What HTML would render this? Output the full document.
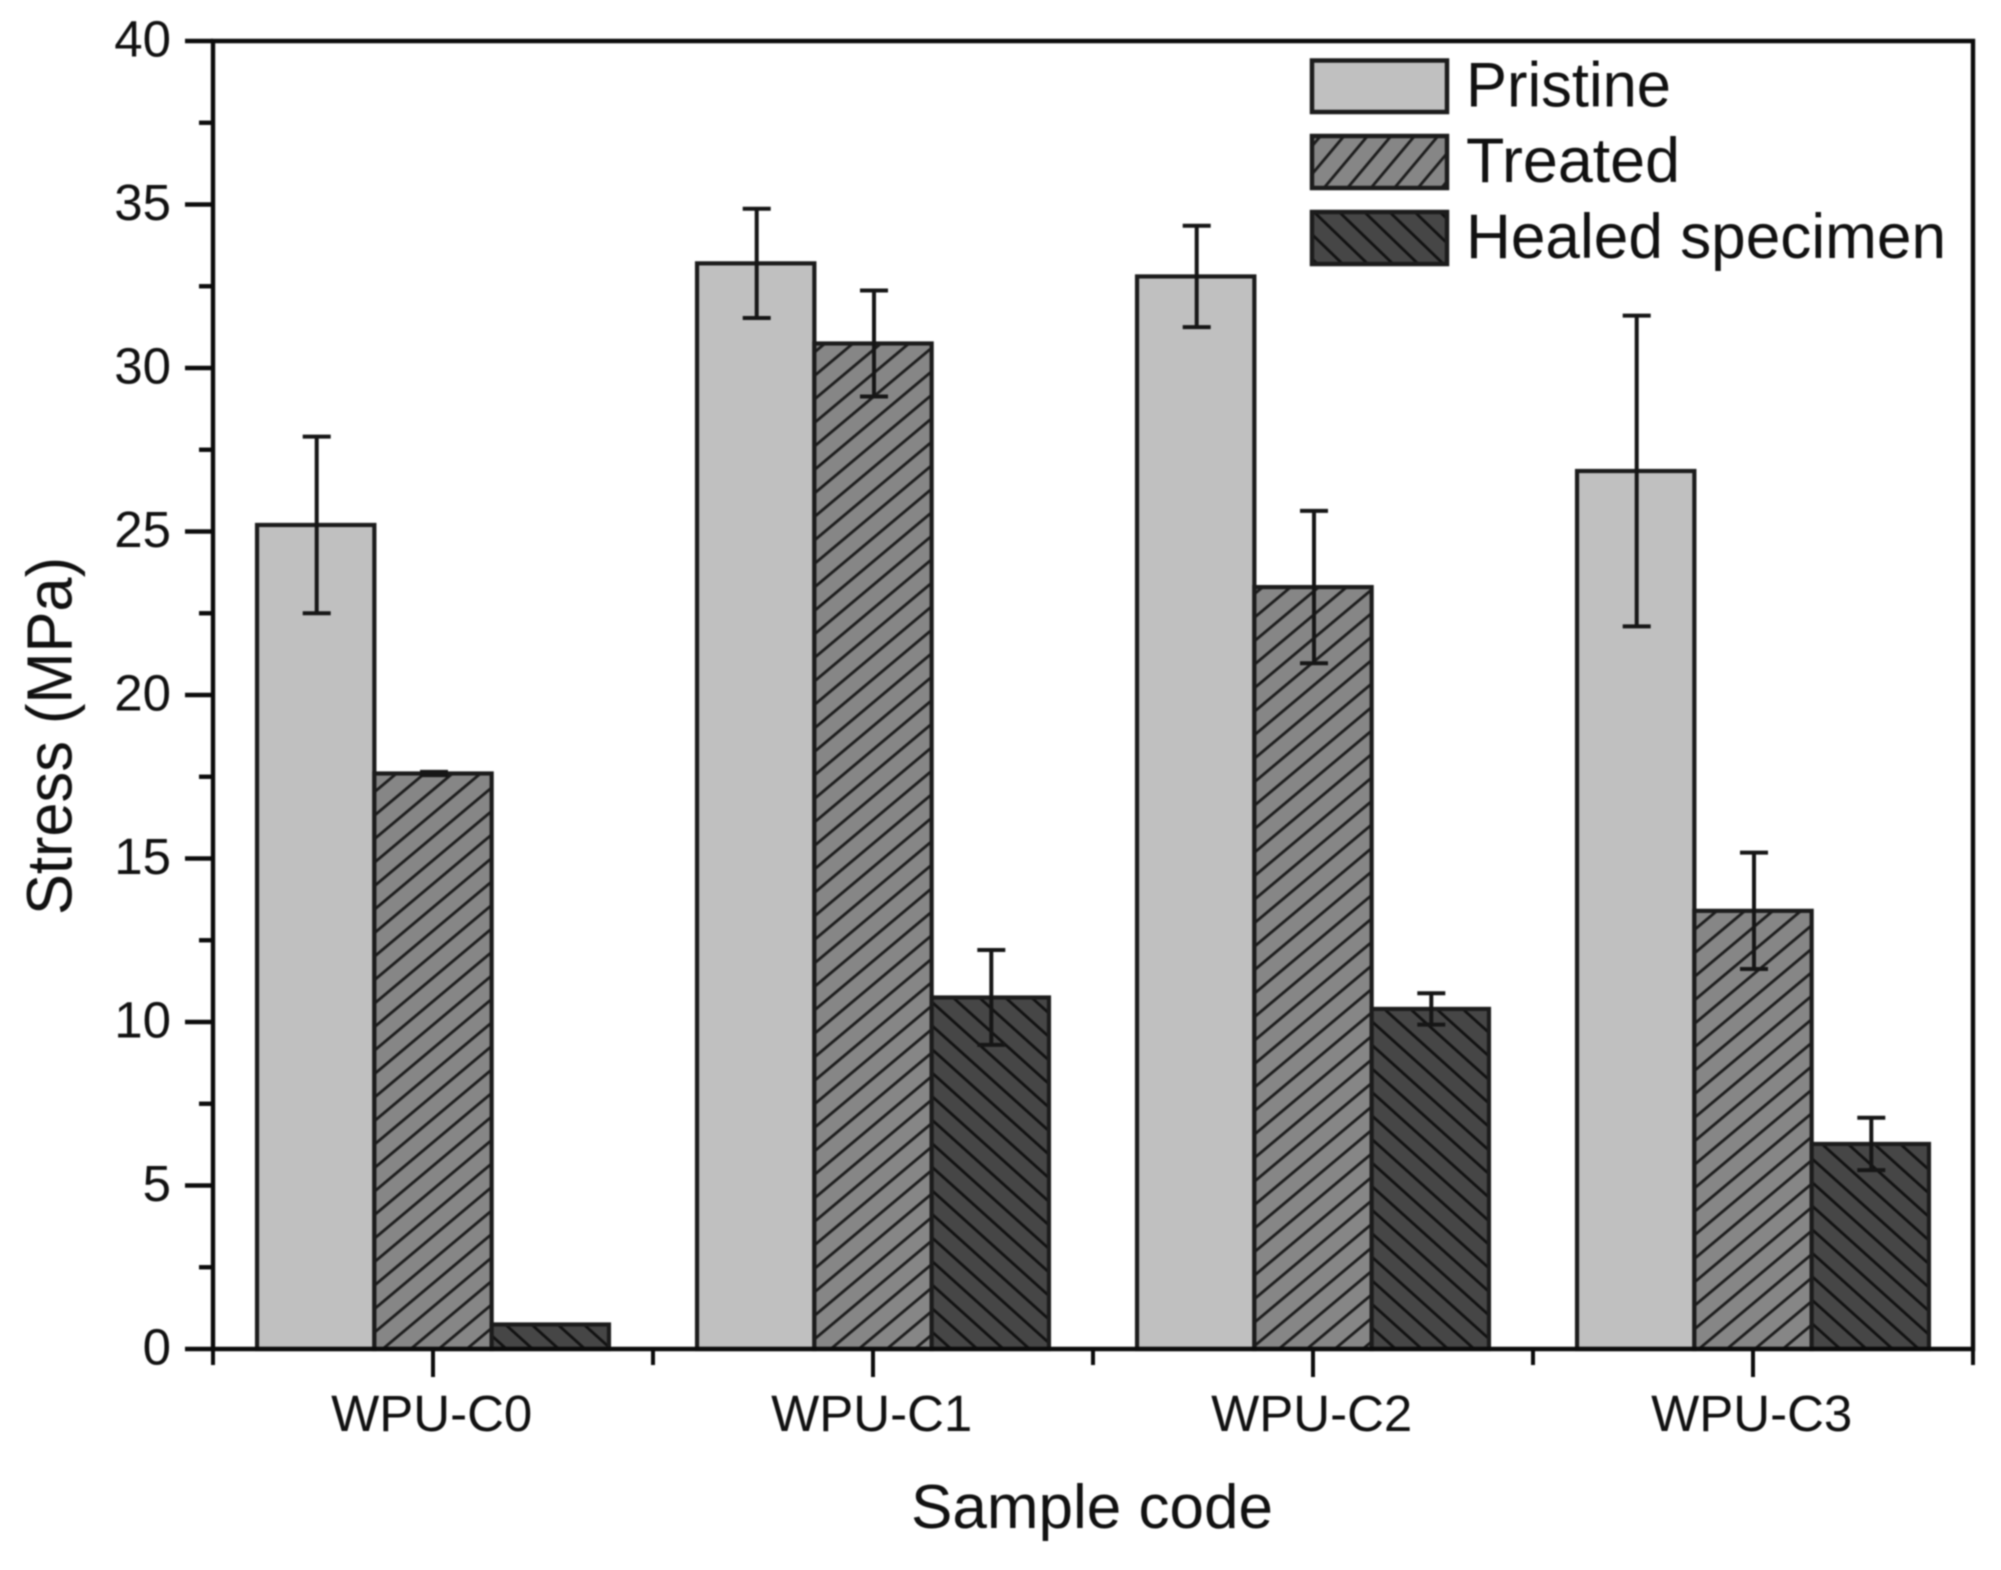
<!DOCTYPE html>
<html lang="en">
<head>
<meta charset="utf-8">
<title>Stress by sample code</title>
<style>
html,body{margin:0;padding:0;background:#fff;width:2001px;height:1570px;overflow:hidden}
svg{display:block;filter:blur(.7px)}
text{font-family:"Liberation Sans",sans-serif;fill:#111111}
</style>
</head>
<body>
<svg id="chart" xmlns="http://www.w3.org/2000/svg" width="2001" height="1570" viewBox="0 0 2001 1570">
  <defs>
    <pattern id="hatch-treated" patternUnits="userSpaceOnUse" width="18" height="18" patternTransform="rotate(50)">
      <rect width="18" height="18" fill="#868686"></rect>
      <rect x="0" y="0" width="2.8" height="18" fill="#1c1c1c"></rect>
    </pattern>
    <pattern id="hatch-healed" patternUnits="userSpaceOnUse" width="17.5" height="17.5" patternTransform="rotate(-48)">
      <rect width="17.5" height="17.5" fill="#464646"></rect>
      <rect x="0" y="0" width="2.8" height="17.5" fill="#111111"></rect>
    </pattern>
    <pattern id="legend-hatch-treated" patternUnits="userSpaceOnUse" width="18" height="18" patternTransform="translate(1312,60) rotate(40)">
      <rect width="18" height="18" fill="#868686"></rect>
      <rect x="0" y="0" width="2.8" height="18" fill="#1c1c1c"></rect>
    </pattern>
    <pattern id="legend-hatch-healed" patternUnits="userSpaceOnUse" width="17.5" height="17.5" patternTransform="translate(1312,212) rotate(-46)">
      <rect width="17.5" height="17.5" fill="#464646"></rect>
      <rect x="0" y="0" width="2.8" height="17.5" fill="#111111"></rect>
    </pattern>
  </defs>
  <rect width="2001" height="1570" fill="#ffffff"></rect>
  <g id="bars"></g>
  <g id="errors"></g>
  <g id="axes"></g>
  <text transform="translate(71.5,736) rotate(-90)" text-anchor="middle" font-size="64" textLength="358" lengthAdjust="spacingAndGlyphs">Stress (MPa)</text>
  <text x="1092" y="1528" text-anchor="middle" font-size="62">Sample code</text>
  <g>
    <rect x="1312" y="60.5" width="135" height="51.5" fill="#c0c0c0" stroke="#1c1c1c" stroke-width="4.5"></rect>
    <text x="1466" y="106.5" font-size="63" textLength="205" lengthAdjust="spacingAndGlyphs">Pristine</text>
    <rect x="1312" y="136" width="135" height="52" fill="url(#legend-hatch-treated)" stroke="#1c1c1c" stroke-width="4.5"></rect>
    <text x="1466" y="182" font-size="63" textLength="214" lengthAdjust="spacingAndGlyphs">Treated</text>
    <rect x="1312" y="212" width="135" height="52" fill="url(#legend-hatch-healed)" stroke="#1c1c1c" stroke-width="4.5"></rect>
    <text x="1466" y="258" font-size="63" textLength="480" lengthAdjust="spacingAndGlyphs">Healed specimen</text>
  </g>
</svg>
<script>
const categories = ["WPU-C0", "WPU-C1", "WPU-C2", "WPU-C3"];
const seriesNames = ["pristine", "treated", "healed"];
const pristineValues = [25.2, 33.2, 32.8, 26.85];
const treatedValues = [17.6, 30.75, 23.3, 13.4];
const healedValues = [0.75, 10.75, 10.4, 6.27];
const pristineErrors = [2.7, 1.67, 1.55, 4.75];
const treatedErrors = [0.05, 1.62, 2.33, 1.78];
const healedErrors = [0, 1.45, 0.48, 0.8];
const yMajorTicks = [0, 5, 10, 15, 20, 25, 30, 35, 40];
const yMinorTicks = [2.5, 7.5, 12.5, 17.5, 22.5, 27.5, 32.5, 37.5];

const NS = "http://www.w3.org/2000/svg";
const plot = { left: 213, right: 1973, top: 41, bottom: 1349 };
const yDomainMax = 40;
const barWidth = 117.3;

function yScale(v) {
  return plot.bottom - (v / yDomainMax) * (plot.bottom - plot.top);
}
function groupCenter(i) {
  return plot.left + (i + 0.5) * (plot.right - plot.left) / categories.length;
}
function groupEdge(i) {
  return plot.left + i * (plot.right - plot.left) / categories.length;
}
function barX(groupIndex, seriesIndex) {
  return groupCenter(groupIndex) + (seriesIndex - 1.5) * barWidth;
}
function make(tag, attrs, parent) {
  const el = document.createElementNS(NS, tag);
  Object.keys(attrs).forEach(function (k) { el.setAttribute(k, attrs[k]); });
  parent.appendChild(el);
  return el;
}

const barsLayer = document.getElementById("bars");
const errorsLayer = document.getElementById("errors");
const axesLayer = document.getElementById("axes");

const seriesValues = [pristineValues, treatedValues, healedValues];
const seriesErrors = [pristineErrors, treatedErrors, healedErrors];
const seriesFills = ["#c0c0c0", "url(#hatch-treated)", "url(#hatch-healed)"];

seriesValues.forEach(function (values, s) {
  values.forEach(function (v, i) {
    const top = yScale(v);
    const bar = make("rect", {
      x: barX(i, s), y: top, width: barWidth, height: yScale(0) - top,
      fill: seriesFills[s], stroke: "#1c1c1c", "stroke-width": 4.2
    }, barsLayer);
    
    
  });
});

seriesValues.forEach(function (values, s) {
  values.forEach(function (v, i) {
    const err = seriesErrors[s][i];
    if (err <= 0) return;
    const cx = barX(i, s) + barWidth / 2 + 1;
    const yHi = yScale(v + err);
    const yLo = yScale(v - err);
    const d = "M" + cx + " " + yHi + "V" + yLo +
      "M" + (cx - 14) + " " + yHi + "H" + (cx + 14) +
      "M" + (cx - 14) + " " + yLo + "H" + (cx + 14);
    const eb = make("path", { d: d, fill: "none", stroke: "#161616", "stroke-width": 4 }, errorsLayer);
    
    
  });
});

const frame = make("path", {
  d: "M" + plot.left + " " + plot.bottom + "V" + plot.top + "H" + plot.right + "V" + plot.bottom + "H" + plot.left,
  fill: "none", stroke: "#0c0c0c", "stroke-width": 4.4
}, axesLayer);



yMajorTicks.forEach(function (t) {
  const y = yScale(t);
  const tick = make("line", { x1: plot.left - 28, x2: plot.left, y1: y, y2: y, stroke: "#0c0c0c", "stroke-width": 4.4 }, axesLayer);
  
  
  const label = make("text", { x: 171, y: y + 15.5, "text-anchor": "end", "font-size": 51 }, axesLayer);
  label.textContent = String(t);
  
  
});

yMinorTicks.forEach(function (t) {
  const y = yScale(t);
  const tick = make("line", { x1: plot.left - 14, x2: plot.left, y1: y, y2: y, stroke: "#0c0c0c", "stroke-width": 4.4 }, axesLayer);
  
  
});

categories.forEach(function (c, i) {
  const x = groupCenter(i);
  const tick = make("line", { x1: x, x2: x, y1: plot.bottom, y2: plot.bottom + 28, stroke: "#0c0c0c", "stroke-width": 4 }, axesLayer);
  
  
  const label = make("text", { x: x - 1.3, y: 1431, "text-anchor": "middle", "font-size": 51 }, axesLayer);
  label.textContent = c;
  
  
});

for (let i = 0; i <= categories.length; i++) {
  const x = groupEdge(i);
  const tick = make("line", { x1: x, x2: x, y1: plot.bottom, y2: plot.bottom + 16, stroke: "#0c0c0c", "stroke-width": 4 }, axesLayer);
  
  
}
</script>
</body>
</html>
